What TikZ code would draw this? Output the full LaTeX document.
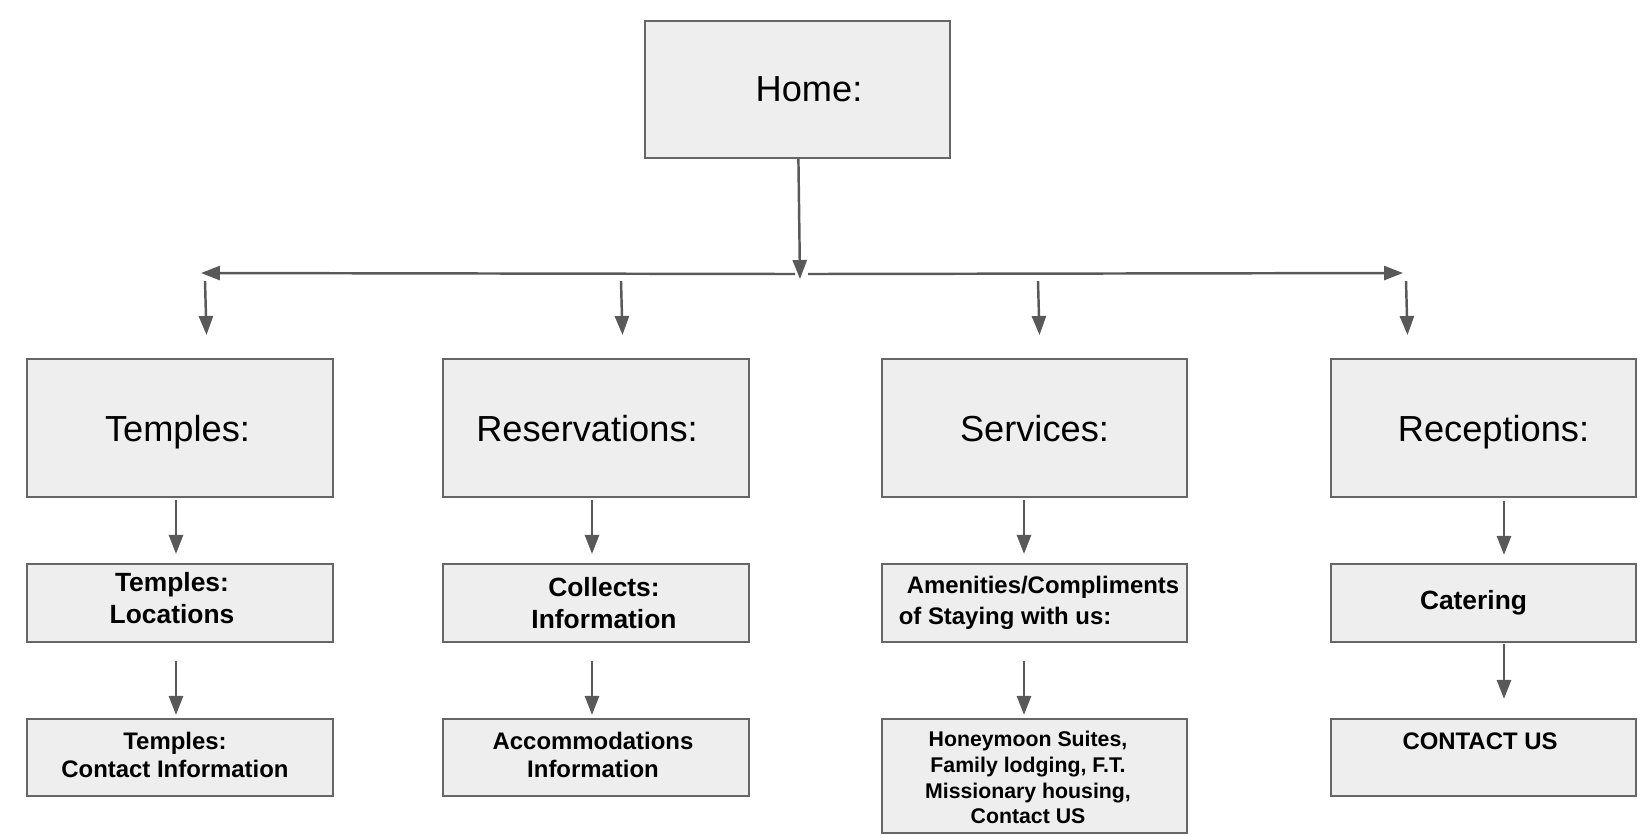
\documentclass[tikz,border=0pt]{standalone}
\usepackage{fontspec}
\setmainfont{Liberation Sans}
\usetikzlibrary{arrows.meta, calc}
\definecolor{boxfill}{HTML}{EEEEEE}
\definecolor{boxline}{HTML}{666666}
\definecolor{arrowgray}{HTML}{595959}

\begin{document}
\begin{tikzpicture}[
      x=0.01cm, y=-0.01cm,
      box/.style={draw=boxline, line width=0.6pt, fill=boxfill,
                  minimum width=3.05cm, align=center, inner sep=0pt},
      page/.style={box, minimum height=1.38cm, text depth=0pt, font=\fontsize{10.3}{12.4}\selectfont},
      sub/.style={box, minimum height=0.78cm, font=\bfseries\fontsize{7.5}{9}\selectfont},
      leaf/.style={box, minimum height=0.77cm, font=\bfseries\fontsize{6.8}{8}\selectfont},
      arr/.style={-{Triangle[width=4pt, length=5.4pt]}, line width=0.7pt, arrowgray}
    ]
    \useasboundingbox (0,0) rectangle (1647,835);

    % --- Home page ---
    \node[page, minimum height=1.37cm] (home) at (797.5,89.5) {\hspace*{0.23cm}Home:};

    % --- Main sections ---
    \node[page] (temples)  at (180,428)    {Temples:\hspace*{0.05cm}};
    \node[page] (reserv)   at (596,428)    {Reservations:\hspace*{0.18cm}};
    \node[page] (services) at (1034.5,428) {Services:};
    \node[page] (recept)   at (1483.5,428) {\hspace*{0.2cm}Receptions:};

    % --- Second level ---
    \node[sub, text depth=0.1cm] (templeLoc) at (180,603) {Temples:\hspace*{0.16cm}\\Locations\hspace*{0.16cm}};
    \node[sub] (collects)  at (596,603)    {\hspace*{0.16cm}Collects:\\\hspace*{0.16cm}Information};
    \node[sub, align=left, font=\bfseries\fontsize{6.8}{9}\selectfont] (amenities) at (1034.5,603)
      {\hspace*{0.17cm}Amenities/Compliments\\\hspace*{0.09cm}of Staying with us:};
    \node[sub] (catering)  at (1483.5,603) {Catering\hspace*{0.2cm}};

    % --- Third level ---
    \node[leaf, text depth=0.05cm] (templeContact) at (180,757.5)
      {Temples:\hspace*{0.1cm}\\Contact Information\hspace*{0.1cm}};
    \node[leaf, text depth=0.05cm] (accomm) at (596,757.5)
      {Accommodations\hspace*{0.06cm}\\Information\hspace*{0.06cm}};
    \node[leaf, minimum height=1.14cm, text height=17.3pt, text depth=11.9pt,
          font=\bfseries\fontsize{6.05}{7.3}\selectfont] (honeymoon) at (1034.5,776)
      {\begin{tabular}{@{}c@{}}Honeymoon Suites,\\Family lodging, F.T.\\Missionary housing,\\Contact US\end{tabular}\hspace*{0.13cm}};
    \node[leaf, text depth=0.32cm] (contactUs) at (1483.5,757.5) {CONTACT US\hspace*{0.07cm}};

    % --- Home to the section bar ---
    \coordinate (hub)  at (800,279);
    \coordinate (hubL) at (795,274);
    \coordinate (endL) at (201,273);
    \coordinate (hubR) at (808,274);
    \coordinate (endR) at (1403,273);
    \draw[arr] (home) -- (hub);
    \draw[arr] (hubL) -- (endL);
    \draw[arr] (hubR) -- (endR);

    % --- Drops above the sections ---
    \foreach \n/\x in {a/205, b/621, c/1038, d/1406} {
      \coordinate (drop\n) at (\x,281);
      \coordinate (land\n) at (\x+1.5,335);
      \draw[arr] (drop\n) -- (land\n);
    }

    % --- Sections to second level ---
    \draw[arr, shorten <=0.02cm, shorten >=0.09cm] ($(temples.south)+(-4,0)$) -- ($(templeLoc.north)+(-4,0)$);
    \draw[arr, shorten <=0.02cm, shorten >=0.09cm] ($(reserv.south)+(-4,0)$) -- ($(collects.north)+(-4,0)$);
    \draw[arr, shorten <=0.02cm, shorten >=0.09cm] ($(services.south)+(-10.5,0)$) -- ($(amenities.north)+(-10.5,0)$);
    \draw[arr, shorten <=0.03cm, shorten >=0.08cm] ($(recept.south)+(20.5,0)$) -- ($(catering.north)+(20.5,0)$);

    % --- Second level to third level ---
    \draw[arr, shorten <=0.18cm, shorten >=0.03cm] ($(templeLoc.south)+(-4,0)$) -- ($(templeContact.north)+(-4,0)$);
    \draw[arr, shorten <=0.18cm, shorten >=0.03cm] ($(collects.south)+(-4,0)$) -- ($(accomm.north)+(-4,0)$);
    \draw[arr, shorten <=0.18cm, shorten >=0.03cm] ($(amenities.south)+(-10.5,0)$) -- ($(honeymoon.north)+(-10.5,0)$);
    \draw[arr, shorten <=0.01cm, shorten >=0.19cm] ($(catering.south)+(20.5,0)$) -- ($(contactUs.north)+(20.5,0)$);

  \end{tikzpicture}
\end{document}
